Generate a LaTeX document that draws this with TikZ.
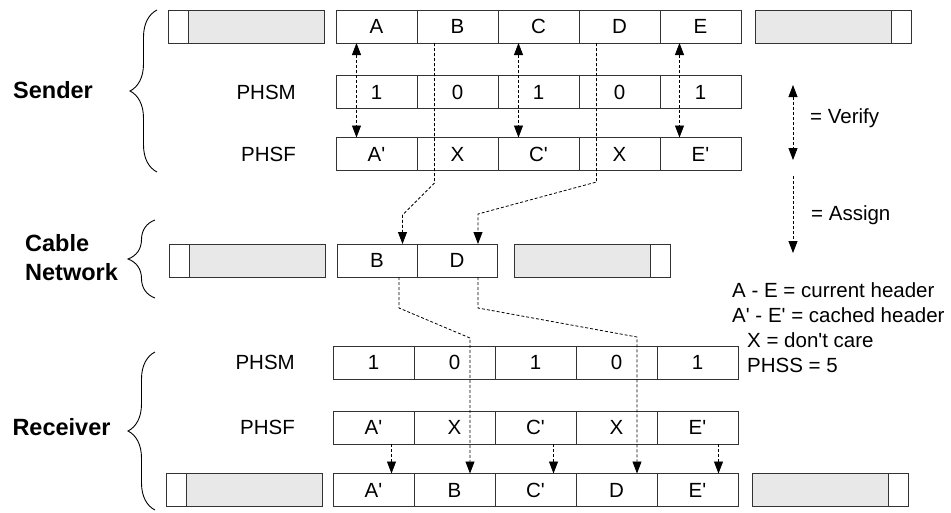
\documentclass[tikz,border=0pt]{standalone}
\usepackage{fontspec}
\setmainfont{Liberation Sans}[Ligatures=TeXOff]
\usetikzlibrary{arrows.meta, positioning, decorations.pathreplacing}

\begin{document}
\begin{tikzpicture}[
    x=1pt, y=-1pt,
    cell/.style={
        rectangle,
        draw=black!80,
        line width=0.9pt,
        minimum width=81pt,
        minimum height=33pt,
        inner sep=0pt,
        outer sep=0pt,
        font=\fontsize{20.5}{24}\selectfont
    },
    padcell/.style={cell, minimum width=20pt},
    padfill/.style={cell, minimum width=136pt, fill=black!9},
    rowlabel/.style={font=\fontsize{20.5}{24}\selectfont, inner sep=0pt},
    side/.style={font=\fontsize{23.5}{29}\selectfont\bfseries, inner sep=0pt, align=left},
    legendtext/.style={font=\fontsize{20.5}{24}\selectfont, inner sep=0pt, anchor=west},
    verify/.style={
        draw,
        line width=0.8pt,
        dash pattern=on 3pt off 2pt,
        {Triangle[length=12pt, width=9pt]}-{Triangle[length=12pt, width=9pt]}
    },
    assign/.style={
        draw,
        line width=0.8pt,
        dash pattern=on 3pt off 2pt,
        -{Triangle[length=12pt, width=9pt]}
    },
    sidebrace/.style={draw, line width=0.9pt, decorate, decoration={brace, amplitude=27pt}}
]
    \useasboundingbox (0,0) rectangle (951,512);

    % sender
    \node [cell] (hA) at (376.5,26.5) {A};
    \node [cell, right=0pt of hA] (hB) {B};
    \node [cell, right=0pt of hB] (hC) {C};
    \node [cell, right=0pt of hC] (hD) {D};
    \node [cell, right=0pt of hD] (hE) {E};
    \node [padfill, left=12pt of hA] (hL) {};
    \node [padcell, left=0pt of hL] (hLpad) {};
    \node [padfill, right=14pt of hE] (hR) {};
    \node [padcell, right=0pt of hR] (hRpad) {};

    \node [cell] (smA) at (376.5,92) {1};
    \node [cell, right=0pt of smA] (smB) {0};
    \node [cell, right=0pt of smB] (smC) {1};
    \node [cell, right=0pt of smC] (smD) {0};
    \node [cell, right=0pt of smD] (smE) {1};
    \node [rowlabel, left=40pt of smA] (smLbl) {PHSM};

    \node [cell] (sfA) at (376.5,154) {A'};
    \node [cell, right=0pt of sfA] (sfB) {X};
    \node [cell, right=0pt of sfB] (sfC) {C'};
    \node [cell, right=0pt of sfC] (sfD) {X};
    \node [cell, right=0pt of sfD] (sfE) {E'};
    \node [rowlabel, left=40pt of sfA] (sfLbl) {PHSF};

    % cable network
    \node [cell, minimum width=80pt] (nB) at (377,260.5) {B};
    \node [cell, minimum width=80pt, right=0pt of nB] (nD) {D};
    \node [padfill, left=12pt of nB] (nL) {};
    \node [padcell, left=0pt of nL] (nLpad) {};
    \node [padfill, right=17pt of nD] (nR) {};
    \node [padcell, right=0pt of nR] (nRpad) {};

    % receiver
    \node [cell] (rmA) at (373.5,362.5) {1};
    \node [cell, right=0pt of rmA] (rmB) {0};
    \node [cell, right=0pt of rmB] (rmC) {1};
    \node [cell, right=0pt of rmC] (rmD) {0};
    \node [cell, right=0pt of rmD] (rmE) {1};
    \node [rowlabel, left=38pt of rmA] (rmLbl) {PHSM};

    \node [cell] (rfA) at (373.5,427.5) {A'};
    \node [cell, right=0pt of rfA] (rfB) {X};
    \node [cell, right=0pt of rfB] (rfC) {C'};
    \node [cell, right=0pt of rfC] (rfD) {X};
    \node [cell, right=0pt of rfD] (rfE) {E'};
    \node [rowlabel, left=38pt of rfA] (rfLbl) {PHSF};

    \node [cell] (oA) at (373.5,490) {A'};
    \node [cell, right=0pt of oA] (oB) {B};
    \node [cell, right=0pt of oB] (oC) {C'};
    \node [cell, right=0pt of oC] (oD) {D};
    \node [cell, right=0pt of oD] (oE) {E'};
    \node [padfill, left=11pt of oA] (oL) {};
    \node [padcell, left=0pt of oL] (oLpad) {};
    \node [padfill, right=14pt of oE] (oR) {};
    \node [padcell, right=0pt of oR] (oRpad) {};

    % side labels and braces
    \node [side] (sender) at (53,90) {Sender};
    \node [side, anchor=west] (network) at (25,258) {Cable\\Network};
    \node [side] (receiver) at (61.5,427) {Receiver};
    \draw [sidebrace] (157,172) -- (157,10);
    \draw [sidebrace] (155,298) -- (155,220);
    \draw [sidebrace] (155,510) -- (155,352);

    % verify
    \draw [verify] ([xshift=-20pt]hA.south) -- ([xshift=-20pt]sfA.north);
    \draw [verify] ([xshift=-20pt]hC.south) -- ([xshift=-20pt]sfC.north);
    \draw [verify] ([xshift=-21pt]hE.south) -- ([xshift=-21pt]sfE.north);

    % assign
    \draw [assign] ([xshift=-23pt]hB.south) -- ++(0,140) -- ++(-32,32) -- ([xshift=25.5pt]nB.north);
    \draw [assign] ([xshift=-23pt]hD.south) -- ++(0,139) -- ++(-118.5,32) -- ([xshift=21pt]nD.north);
    \draw [assign] ([xshift=22pt]nB.south) -- ++(0,31) -- ++(71,30) -- ([xshift=15.5pt]oB.north);
    \draw [assign] ([xshift=21pt]nD.south) -- ++(0,31) -- ++(159,29) -- ([xshift=20.5pt]oD.north);
    \draw [assign] ([xshift=18pt]rfA.south) -- ([xshift=18pt]oA.north);
    \draw [assign] ([xshift=18pt]rfC.south) -- ([xshift=18pt]oC.north);
    \draw [assign] ([xshift=21pt]rfE.south) -- ([xshift=21pt]oE.north);

    % legend
    \coordinate (vTop) at (793,85);
    \coordinate (vBot) at (793,160);
    \coordinate (aTop) at (793,176);
    \coordinate (aBot) at (793,253);
    \draw [verify] (vTop) -- (vBot);
    \draw [assign] (aTop) -- (aBot);
    \node [legendtext] (verifyTxt) at (810,118) {= Verify};
    \node [legendtext] (assignTxt) at (811,215) {= Assign};
    \node [legendtext] (leg1) at (732,290) {A - E = current header};
    \node [legendtext] (leg2) at (732,315) {A' - E' = cached header};
    \node [legendtext] (leg3) at (747,340) {X = don't care};
    \node [legendtext] (leg4) at (747,365) {PHSS = 5};
\end{tikzpicture}
\end{document}
